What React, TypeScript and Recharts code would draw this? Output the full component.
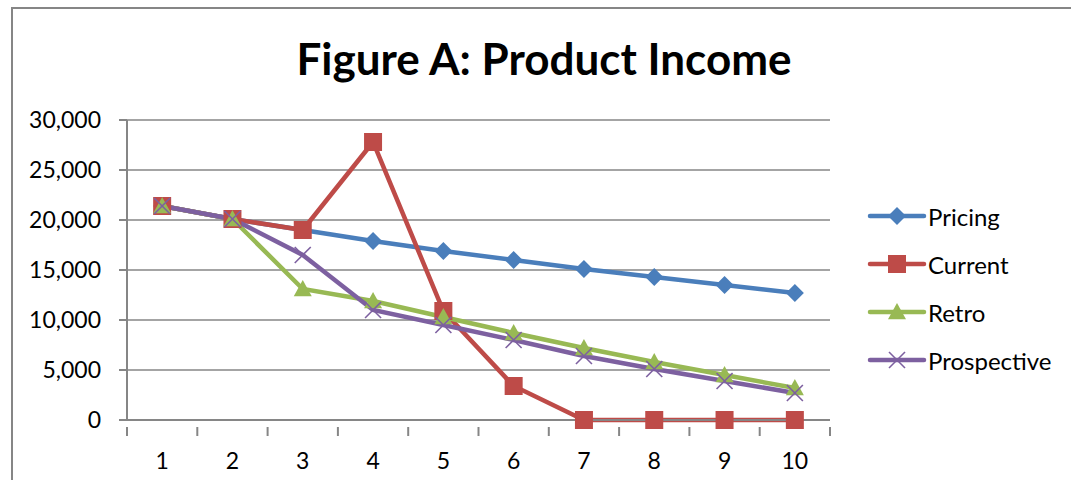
import React from "react";
import {
  LineChart,
  Line,
  XAxis,
  YAxis,
  CartesianGrid,
} from "recharts";

const periods = ["1", "2", "3", "4", "5", "6", "7", "8", "9", "10"];
const pricing = [21400, 20100, 19000, 17900, 16900, 16000, 15100, 14300, 13500, 12700];
const current = [21400, 20100, 19000, 27800, 10900, 3400, 0, 0, 0, 0];
const retro = [21400, 20100, 13100, 11900, 10300, 8700, 7200, 5800, 4500, 3200];
const prospective = [21400, 20100, 16500, 11000, 9500, 8000, 6400, 5100, 3900, 2700];
const yTicks = [0, 5000, 10000, 15000, 20000, 25000, 30000];

const data = periods.map((p, i) => ({
  period: p,
  Pricing: pricing[i],
  Current: current[i],
  Retro: retro[i],
  Prospective: prospective[i],
}));

const FONT = "Lato, 'Open Sans', sans-serif";
const AXIS_GRAY = "#868686";
const PLOT_LEFT = 127;
const PLOT_RIGHT = 830;
const HALF_BAND = (PLOT_RIGHT - PLOT_LEFT) / periods.length / 2;

const COLORS = {
  Pricing: "#4A7EBB",
  Current: "#BE4B48",
  Retro: "#98B954",
  Prospective: "#7D60A0",
};

type Shape = "diamond" | "square" | "triangle" | "cross";

function Marker({ cx, cy, shape, color }: { cx: number; cy: number; shape: Shape; color: string }) {
  if (cx == null || cy == null) return null;
  if (shape === "diamond") {
    const r = 9;
    return (
      <polygon
        points={`${cx},${cy - r} ${cx + r},${cy} ${cx},${cy + r} ${cx - r},${cy}`}
        fill={color}
      />
    );
  }
  if (shape === "square") {
    const r = 9;
    return <rect x={cx - r} y={cy - r} width={r * 2} height={r * 2} fill={color} />;
  }
  if (shape === "triangle") {
    const r = 9;
    return (
      <polygon
        points={`${cx},${cy - r} ${cx + r},${cy + r * 0.8} ${cx - r},${cy + r * 0.8}`}
        fill={color}
      />
    );
  }
  const r = 8;
  return (
    <g stroke={color} strokeWidth={1.6}>
      <line x1={cx - r} y1={cy - r} x2={cx + r} y2={cy + r} />
      <line x1={cx - r} y1={cy + r} x2={cx + r} y2={cy - r} />
    </g>
  );
}

const makeDot = (shape: Shape, color: string) => (props: any) =>
  <Marker key={`${shape}-${props.index}`} cx={props.cx} cy={props.cy} shape={shape} color={color} />;

// category ticks sit between the categories, labels stay centred
function XTick(props: any) {
  const { x, y, payload, index, visibleTicksCount } = props;
  const top = y;
  return (
    <g>
      <line x1={x - HALF_BAND} y1={top - 1} x2={x - HALF_BAND} y2={top + 8} stroke={AXIS_GRAY} strokeWidth={2} />
      {index === visibleTicksCount - 1 && (
        <line x1={x + HALF_BAND} y1={top - 1} x2={x + HALF_BAND} y2={top + 8} stroke={AXIS_GRAY} strokeWidth={2} />
      )}
      <text x={x} y={top + 41} textAnchor="middle" fontSize={23} fill="#000" fontFamily={FONT}>
        {payload.value}
      </text>
    </g>
  );
}

const legendItems: { name: keyof typeof COLORS; shape: Shape }[] = [
  { name: "Pricing", shape: "diamond" },
  { name: "Current", shape: "square" },
  { name: "Retro", shape: "triangle" },
  { name: "Prospective", shape: "cross" },
];

function SeriesLegend() {
  return (
    <div style={{ position: "absolute", left: 866, top: 192, fontFamily: FONT, fontSize: 24 }}>
      {legendItems.map((it) => (
        <div key={it.name} style={{ display: "flex", alignItems: "center", height: 48 }}>
          <svg width={61} height={24}>
            <line x1={4} y1={12} x2={58} y2={12} stroke={COLORS[it.name]} strokeWidth={4.5} strokeLinecap="round" />
            <Marker cx={31} cy={12} shape={it.shape} color={COLORS[it.name]} />
          </svg>
          <span style={{ marginLeft: 1 }}>{it.name}</span>
        </div>
      ))}
    </div>
  );
}

export default function App() {
  return (
    <div style={{ position: "absolute", left: 0, top: 0, width: 1071, height: 480, background: "#fff", overflow: "hidden" }}>
      <div
        style={{
          position: "absolute",
          left: 11,
          top: 7,
          width: 1080,
          height: 500,
          border: `2px solid ${AXIS_GRAY}`,
          boxSizing: "border-box",
        }}
      />
      <LineChart
        width={1071}
        height={480}
        data={data}
        margin={{ top: 120, right: 241, left: 67, bottom: 20 }}
        style={{ position: "absolute", left: 0, top: 0 }}
      >
        <text
          x={544}
          y={75}
          textAnchor="middle"
          fontSize={44}
          fontWeight="bold"
          fontFamily={FONT}
          fill="#000"
        >
          Figure A: Product Income
        </text>
        <CartesianGrid vertical={false} stroke={AXIS_GRAY} strokeWidth={1.5} />
        <XAxis
          dataKey="period"
          stroke={AXIS_GRAY}
          strokeWidth={2}
          tickLine={false}
          tick={<XTick />}
          height={40}
          interval={0}
          padding={{ left: HALF_BAND, right: HALF_BAND }}
        />
        <YAxis
          domain={[0, 30000]}
          ticks={yTicks}
          width={60}
          stroke={AXIS_GRAY}
          strokeWidth={2}
          tickSize={8}
          tickMargin={18}
          tick={{ fill: "#000", fontSize: 23, fontFamily: FONT }}
          tickFormatter={(v: number) => v.toLocaleString("en-US")}
        />
        {legendItems.map((it) => (
          <Line
            key={it.name}
            type="linear"
            dataKey={it.name}
            stroke={COLORS[it.name]}
            strokeWidth={4.5}
            dot={makeDot(it.shape, COLORS[it.name])}
            activeDot={false}
            isAnimationActive={false}
          />
        ))}
      </LineChart>
      <SeriesLegend />
    </div>
  );
}
